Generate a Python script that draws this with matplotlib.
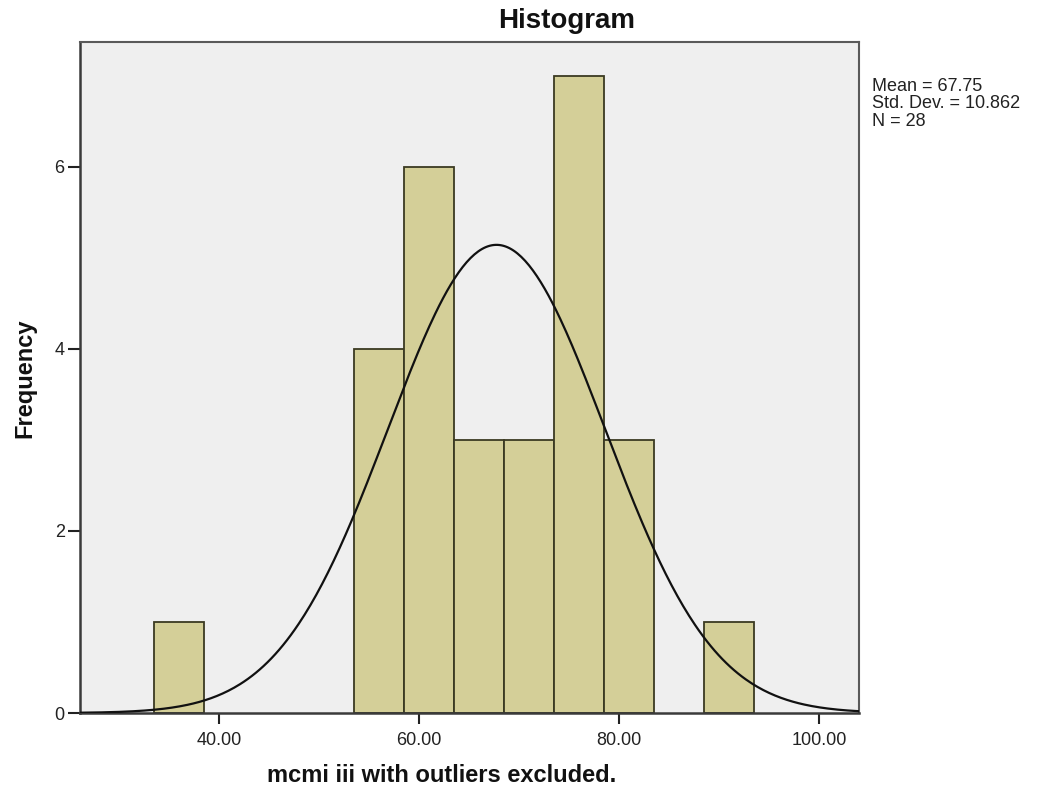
import numpy as np
import matplotlib.pyplot as plt

plt.rcParams['font.family'] = ['Liberation Sans', 'DejaVu Sans']

# histogram bins (left edge, width 5)
bin_left = [33.5, 53.5, 58.5, 63.5, 68.5, 73.5, 78.5, 88.5]
counts = [1, 4, 6, 3, 3, 7, 3, 1]
bin_width = 5

mean = 67.75
std = 10.862
n = 28

x_ticks = [40, 60, 80, 100]
x_ticklabels = ['40.00', '60.00', '80.00', '100.00']
y_ticks = [0, 2, 4, 6]

W, H = 1045, 793
fig = plt.figure(figsize=(W / 100, H / 100), dpi=100)
ax = fig.add_axes([80 / W, 1 - 713 / H, (859 - 80) / W, (713 - 42) / H])
ax.set_facecolor('#efefef')

ax.bar(bin_left, counts, width=bin_width, align='edge',
       color='#d4cf98', edgecolor='#3b3a22', linewidth=1.3, zorder=2)

# normal curve scaled to counts
xs = np.linspace(26.1, 104.0, 400)
ys = n * bin_width / (std * np.sqrt(2 * np.pi)) * np.exp(-0.5 * ((xs - mean) / std) ** 2)
ax.plot(xs, ys, color='#111111', linewidth=1.6, zorder=3)

ax.set_xlim(26.1, 104.0)
ax.set_ylim(0, 7.37)
ax.set_xticks(x_ticks)
ax.set_xticklabels(x_ticklabels)
ax.set_yticks(y_ticks)
ax.tick_params(axis='x', length=8, width=1.5, pad=6, labelsize=13, colors='#222222')
ax.tick_params(axis='y', length=9, width=1.5, pad=2, labelsize=13, colors='#222222')

for side in ['left', 'bottom']:
    ax.spines[side].set_color('#3a3a3a')
    ax.spines[side].set_linewidth(1.8)
for side in ['top', 'right']:
    ax.spines[side].set_color('#5a5a5a')
    ax.spines[side].set_linewidth(1.5)

fig.text(567 / W, 1 - 21 / H, 'Histogram', ha='center', va='center',
         fontsize=20, fontweight='bold', color='#111111')
fig.text(442 / W, 1 - 775 / H, 'mcmi iii with outliers excluded.', ha='center', va='center',
         fontsize=17, fontweight='bold', color='#111111')
fig.text(25 / W, 1 - 378 / H, 'Frequency', ha='center', va='center', rotation=90,
         fontsize=17, fontweight='bold', color='#111111')

fig.text(872 / W, 1 - 78 / H,
         'Mean = %.2f\nStd. Dev. = %.3f\nN = %d' % (mean, std, n),
         ha='left', va='top', fontsize=13, linespacing=1.02, color='#222222')

fig.savefig('out.png', dpi=100, facecolor='white')
